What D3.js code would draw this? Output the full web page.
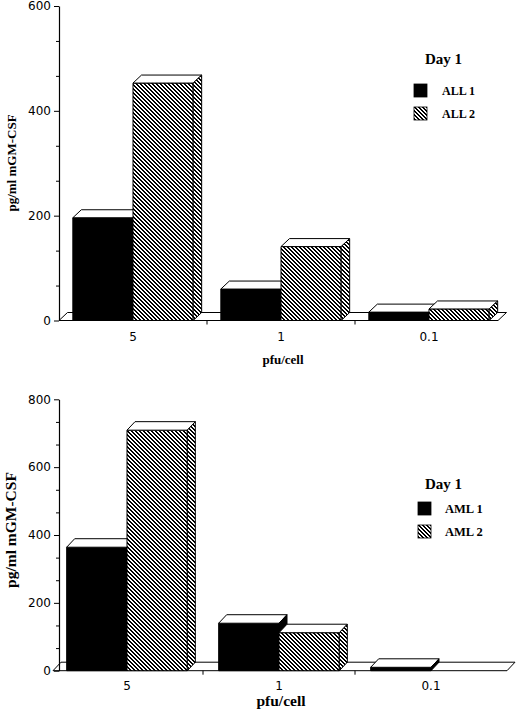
<!DOCTYPE html>
<html>
<head>
<meta charset="utf-8">
<script src="https://cdn.jsdelivr.net/npm/d3@7"></script>
<style>
  body { margin: 0; background: #fff; }
  svg { display: block; }
</style>
</head>
<body>
<div id="chart"></div>
<script>
// values
const doses = ["5", "1", "0.1"]
const allNames = ["ALL 1", "ALL 2"]
const all1 = [196, 60, 16]
const all2 = [453, 141, 22]
const allTicks = [0, 200, 400, 600]
const amlNames = ["AML 1", "AML 2"]
const aml1 = [364, 140, 10]
const aml2 = [709, 112, 0]
const amlTicks = [0, 200, 400, 600, 800]
const legendTitle = "Day 1"
const xTitle = "pfu/cell"
const yTitle = "pg/ml mGM-CSF"

const serif = "'Liberation Serif', 'Times New Roman', serif"
const sans = "'DejaVu Sans', sans-serif"

const width = 520, height = 714

const svg = d3.select("#chart").append("svg")
  .attr("width", width)
  .attr("height", height)

// crisp diagonal hatch (top-left to bottom-right) for the second series
const hatch = svg.append("defs").append("pattern")
  .attr("id", "hatch")
  .attr("patternUnits", "userSpaceOnUse")
  .attr("width", 4)
  .attr("height", 4)
  .attr("shape-rendering", "crispEdges")
hatch.append("rect").attr("width", 4).attr("height", 4).attr("fill", "#fff")
hatch.selectAll("rect.s")
  .data([[0, 0, 2], [1, 1, 2], [2, 2, 2], [3, 3, 1], [0, 3, 1]])
  .join("rect")
  .attr("class", "s")
  .attr("x", d => d[0]).attr("y", d => d[1])
  .attr("width", d => d[2]).attr("height", 1)
  .attr("fill", "#000")

const panels = [
  {
    names: allNames, rows: [all1, all2], ticks: allTicks,
    yRange: [320.5, 6], xRange: [59, 503], axisX: 59,
    floor: [59, 498], dx: 8.5, dy: 8, pad: 0.23,
    titleSize: 13, yTitleY: 163, xTitleY: 364, catY: 341,
    legend: { titleX: 425, titleY: 64, boxX: 414, boxY: 84, gap: 23, labelX: 442, size: 15, labelSize: 12 }
  },
  {
    names: amlNames, rows: [aml1, aml2], ticks: amlTicks,
    yRange: [670.7, 399.3], xRange: [51, 507], axisX: 59,
    floor: [53, 507], dx: 8, dy: 8.5, pad: 0.26,
    titleSize: 15.5, yTitleY: 530, xTitleY: 706, catY: 690,
    legend: { titleX: 425, titleY: 489, boxX: 418, boxY: 502, gap: 23, labelX: 445, size: 15, labelSize: 12.5 }
  }
]

panels.forEach(p => drawPanel(p))

function drawPanel(p) {
  const g = svg.append("g")
  const max = p.ticks[p.ticks.length - 1]

  const y = d3.scaleLinear().domain([0, max]).range(p.yRange)
  const x = d3.scaleBand().domain(doses).range(p.xRange)
  const x1 = d3.scaleBand().domain(p.names).range([0, x.bandwidth()])
    .paddingInner(0).paddingOuter(p.pad)

  const y0 = y(0)
  const {dx, dy} = p

  // floor slab
  g.append("path")
    .attr("d", `M${p.floor[0]},${y0}L${p.floor[1]},${y0}L${p.floor[1] + dx},${y0 - dy}L${p.floor[0] + dx},${y0 - dy}Z`)
    .attr("fill", "#fff")
    .attr("stroke", "#000")
    .attr("stroke-width", 1)

  // bars, drawn left to right so the next front face covers the previous side
  const bars = []
  doses.forEach((d, i) => {
    p.names.forEach((n, j) => {
      bars.push({dose: d, name: n, value: p.rows[j][i], k: j})
    })
  })

  const barG = g.append("g")
    .attr("stroke", "#000")
    .attr("stroke-width", 1)
    .attr("stroke-linejoin", "round")

  barG.selectAll("g.bar")
    .data(bars.filter(b => b.value > 0))
    .join("g")
    .attr("class", "bar")
    .each(function(b) {
      const node = d3.select(this)
      const x0 = x(b.dose) + x1(b.name)
      const w = x1.bandwidth()
      const yt = y(b.value)
      const fill = b.k === 0 ? "#000" : "url(#hatch)"
      node.append("rect")
        .attr("x", x0).attr("y", yt)
        .attr("width", w).attr("height", y0 - yt)
        .attr("fill", fill)
      node.append("path")
        .attr("d", `M${x0},${yt}L${x0 + dx},${yt - dy}L${x0 + w + dx},${yt - dy}L${x0 + w},${yt}Z`)
        .attr("fill", "#fff")
      node.append("path")
        .attr("d", `M${x0 + w},${yt}L${x0 + w + dx},${yt - dy}L${x0 + w + dx},${y0 - dy}L${x0 + w},${y0}Z`)
        .attr("fill", fill)
    })

  // y axis: labelled ticks plus unlabelled thirds
  const minor = []
  p.ticks.slice(1).forEach((t, i) => {
    const a = p.ticks[i]
    minor.push(a + (t - a) / 3, a + 2 * (t - a) / 3)
  })

  g.append("g")
    .attr("transform", `translate(${p.axisX},0)`)
    .call(d3.axisLeft(y).tickValues(minor).tickSize(3).tickFormat(""))
    .call(a => a.select(".domain").remove())

  g.append("g")
    .attr("transform", `translate(${p.axisX},0)`)
    .call(d3.axisLeft(y).tickValues(p.ticks).tickSize(5).tickSizeOuter(0).tickPadding(3))
    .call(a => a.select(".domain").attr("stroke-width", 1.2))
    .call(a => a.selectAll("text")
      .attr("font-family", sans)
      .attr("font-size", 12)
      .attr("fill", "#000"))

  // x axis: ticks at the band boundaries, labels at the band centres
  g.selectAll("line.xtick")
    .data(doses.slice(1))
    .join("line")
    .attr("class", "xtick")
    .attr("x1", d => x(d)).attr("x2", d => x(d))
    .attr("y1", y0).attr("y2", y0 + 4)
    .attr("stroke", "#000")

  g.selectAll("text.cat")
    .data(doses)
    .join("text")
    .attr("class", "cat")
    .attr("x", d => x(d) + x.bandwidth() / 2)
    .attr("y", p.catY)
    .attr("text-anchor", "middle")
    .attr("font-family", sans)
    .attr("font-size", 12)
    .text(d => d)

  g.append("text")
    .attr("x", (p.xRange[0] + p.xRange[1]) / 2 + 2)
    .attr("y", p.xTitleY)
    .attr("text-anchor", "middle")
    .attr("font-family", serif)
    .attr("font-weight", "bold")
    .attr("font-size", p.titleSize)
    .text(xTitle)

  g.append("text")
    .attr("transform", `translate(${16},${p.yTitleY}) rotate(-90)`)
    .attr("text-anchor", "middle")
    .attr("font-family", serif)
    .attr("font-weight", "bold")
    .attr("font-size", p.titleSize)
    .text(yTitle)

  // legend
  const L = p.legend
  const lg = g.append("g")
  lg.append("text")
    .attr("x", L.titleX).attr("y", L.titleY)
    .attr("font-family", serif)
    .attr("font-weight", "bold")
    .attr("font-size", L.size)
    .text(legendTitle)

  const item = lg.selectAll("g.item")
    .data(p.names)
    .join("g")
    .attr("class", "item")
    .attr("transform", (d, i) => `translate(${L.boxX},${L.boxY + i * L.gap})`)

  item.append("rect")
    .attr("width", 13).attr("height", 13)
    .attr("fill", (d, i) => i === 0 ? "#000" : "url(#hatch)")
    .attr("stroke", "#000")
    .attr("stroke-width", 0.8)

  item.append("text")
    .attr("x", L.labelX - L.boxX)
    .attr("y", 11)
    .attr("font-family", serif)
    .attr("font-weight", "bold")
    .attr("font-size", L.labelSize)
    .text(d => d)
}
</script>
</body>
</html>
